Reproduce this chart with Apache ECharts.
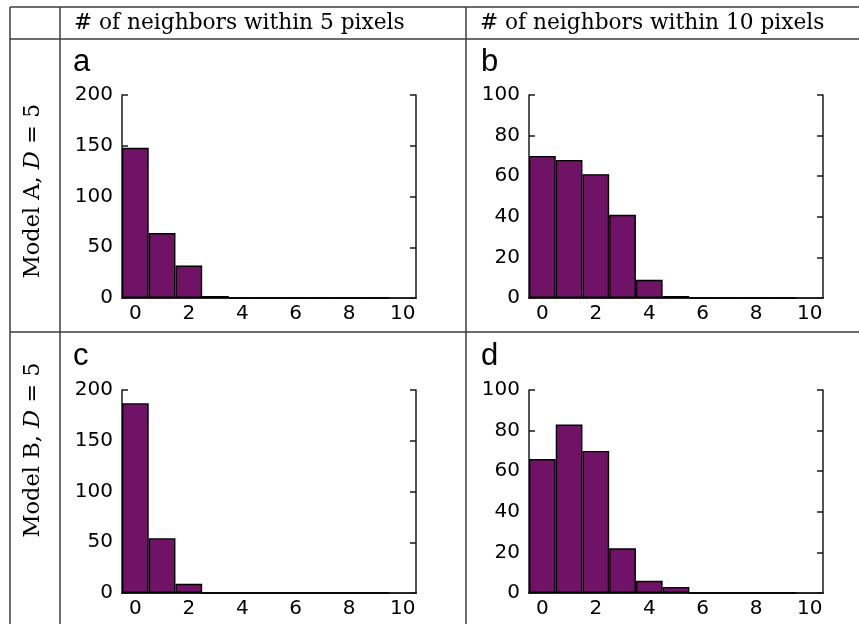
<!DOCTYPE html>
<html>
<head>
<meta charset="utf-8">
<script src="https://cdn.jsdelivr.net/npm/echarts@6/dist/echarts.min.js"></script>
<style>
	html, body { margin: 0; padding: 0; background: #fff; }
	#chart { width: 859px; height: 624px; }
</style>
</head>
<body>
<div id="chart"></div>
<script>
// histogram bins: number of neighbours (0..10)
var bins = ['0', '1', '2', '3', '4', '5', '6', '7', '8', '9', '10'];

// counts per bin
var countsA5  = [148, 64, 32, 2, 0, 0, 0, 0, 0, 0];
var countsA10 = [70, 68, 61, 41, 9, 1, 0, 0, 0, 0];
var countsB5  = [187, 54, 9, 0, 0, 0, 0, 0, 0, 0];
var countsB10 = [66, 83, 70, 22, 6, 3, 0, 0, 0, 0];

var colHeaders = ['# of neighbors within 5 pixels', '# of neighbors within 10 pixels'];
var rowLabels = ['A', 'B'];
var panelLetters = ['a', 'b', 'c', 'd'];

var chart = echarts.init(document.getElementById('chart'));

var barColor = '#701266';
var frameColor = '#1a1a1a';
var tableColor = '#3c3c3c';
var tickFont = 'DejaVu Sans';

/* 每个面板的位置和y轴范围 */
var panels = [
	{ data: countsA5,  left: 122, top: 95,  yMax: 200, yStep: 50 },
	{ data: countsA10, left: 529, top: 95,  yMax: 100, yStep: 20 },
	{ data: countsB5,  left: 122, top: 390, yMax: 200, yStep: 50 },
	{ data: countsB10, left: 529, top: 390, yMax: 100, yStep: 20 }
];

var grids = [], xAxes = [], yAxes = [], series = [];

panels.forEach(function(p, i){
	grids.push({ left: p.left, top: p.top, width: 294, height: 203 });

	var lineStyle = { color: frameColor, width: 1.5 };
	// bottom axis with labels
	xAxes.push({
		type: 'category', gridIndex: i, data: bins, position: 'bottom',
		boundaryGap: true,
		axisLine: { lineStyle: lineStyle },
		axisTick: { inside: true, length: 6, interval: 1, alignWithLabel: true, lineStyle: lineStyle },
		axisLabel: { interval: 1, margin: 6, color: '#000', fontFamily: tickFont, fontSize: 20 },
		splitLine: { show: false }
	});
	// top frame
	xAxes.push({
		type: 'category', gridIndex: i, data: bins, position: 'top',
		boundaryGap: true,
		axisLine: { lineStyle: lineStyle },
		axisTick: { inside: true, length: 6, interval: 1, alignWithLabel: true, lineStyle: lineStyle },
		axisLabel: { show: false },
		splitLine: { show: false }
	});
	yAxes.push({
		type: 'value', gridIndex: i, position: 'left',
		min: 0, max: p.yMax, interval: p.yStep,
		axisLine: { show: true, lineStyle: lineStyle },
		axisTick: { show: true, inside: true, length: 6, lineStyle: lineStyle },
		axisLabel: { margin: 9, color: '#000', fontFamily: tickFont, fontSize: 20 },
		splitLine: { show: false }
	});
	yAxes.push({
		type: 'value', gridIndex: i, position: 'right',
		min: 0, max: p.yMax, interval: p.yStep,
		axisLine: { show: true, lineStyle: lineStyle },
		axisTick: { show: true, inside: true, length: 6, lineStyle: lineStyle },
		axisLabel: { show: false },
		splitLine: { show: false }
	});

	series.push({
		type: 'bar',
		xAxisIndex: i * 2,
		yAxisIndex: i * 2,
		data: p.data,
		barCategoryGap: '0%',
		itemStyle: { color: barColor, borderColor: '#000', borderWidth: 1.4 },
		silent: true,
		z: 1
	});
});

/* 表格线和文字 */
var graphics = [];
function hline(x1, x2, y){
	graphics.push({ type: 'line', shape: { x1: x1, y1: y, x2: x2, y2: y }, style: { stroke: tableColor, lineWidth: 1.5 }, silent: true });
}
function vline(x, y1, y2){
	graphics.push({ type: 'line', shape: { x1: x, y1: y1, x2: x, y2: y2 }, style: { stroke: tableColor, lineWidth: 1.5 }, silent: true });
}
hline(10, 859, 7);
hline(10, 859, 39);
hline(10, 859, 332);
vline(10, 7, 624);
vline(60, 7, 624);
vline(466, 7, 624);

var serif = 'DejaVu Serif';
colHeaders.forEach(function(t, i){
	graphics.push({
		type: 'text', x: i === 0 ? 74 : 480, y: 23,
		style: { text: t, font: '21.7px "' + serif + '"', fill: '#000', textVerticalAlign: 'middle' },
		silent: true
	});
});

rowLabels.forEach(function(m, i){
	graphics.push({
		type: 'text', x: 33, y: i === 0 ? 191 : 450, rotation: Math.PI / 2,
		style: {
			text: '{n|Model ' + m + ', }{i|D}{n| = 5}',
			textAlign: 'center', textVerticalAlign: 'middle',
			rich: {
				n: { fontFamily: serif, fontSize: 22.5, fill: '#000' },
				i: { fontFamily: serif, fontSize: 22.5, fontStyle: 'italic', fill: '#000' }
			}
		},
		silent: true
	});
});

panelLetters.forEach(function(l, i){
	graphics.push({
		type: 'text', x: i % 2 === 0 ? 73 : 481, y: i < 2 ? 62 : 356,
		style: { text: l, font: '31px "Liberation Sans"', fill: '#000', textVerticalAlign: 'middle' },
		silent: true
	});
});

chart.setOption({
	animation: false,
	backgroundColor: '#fff',
	grid: grids,
	xAxis: xAxes,
	yAxis: yAxes,
	series: series,
	graphic: graphics
});
</script>
</body>
</html>
